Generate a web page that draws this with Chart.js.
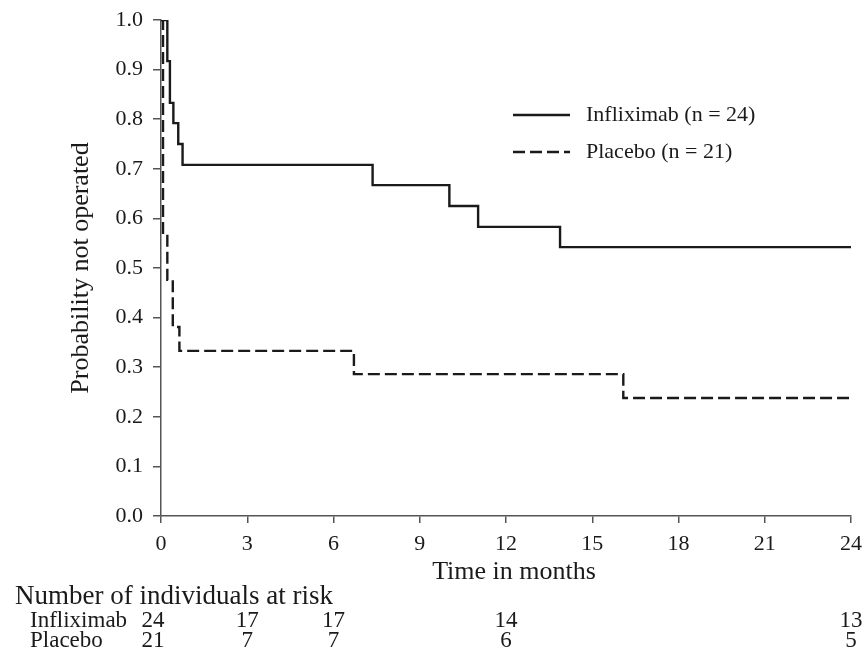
<!DOCTYPE html>
<html>
<head>
<meta charset="utf-8">
<script src="https://cdn.jsdelivr.net/npm/chart.js@4.4.0/dist/chart.umd.min.js"></script>
<style>
  html, body { margin: 0; padding: 0; background: #fff; }
  #wrap { width: 863px; height: 659px; }
</style>
</head>
<body>
<div id="wrap"><canvas id="km" width="863" height="659"></canvas></div>
<script>
// Kaplan-Meier data (months, probability not operated)
const inflixTimes = [0, 0.22, 0.31, 0.43, 0.60, 0.75, 7.36, 10.03, 11.03, 13.88, 24];
const inflixSurv  = [1.0, 0.917, 0.833, 0.792, 0.750, 0.708, 0.667, 0.625, 0.583, 0.542, 0.542];

const placeboTimes = [0, 0.07, 0.22, 0.41, 0.64, 6.71, 16.08, 24];
const placeboSurv  = [1.0, 0.571, 0.476, 0.381, 0.333, 0.286, 0.238, 0.238];

// Number at risk table
const riskTimes   = [0, 3, 6, 12, 24];
const riskInflix  = [24, 17, 17, 14, 13];
const riskPlacebo = [21, 7, 7, 6, 5];

const seriesLabels = ['Infliximab (n = 24)', 'Placebo (n = 21)'];
const riskLabels = ['Infliximab', 'Placebo'];

const FONT = "'Liberation Serif', 'Times New Roman', serif";
const INK = '#1a1a1a';

function toPoints(xs, ys) {
    return xs.map((x, i) => ({ x: x, y: ys[i] }));
}

// draws the legend, the x title and the number-at-risk table under the axis
const extrasPlugin = {
    id: 'extras',
    afterDraw(chart) {
        const ctx = chart.ctx;
        const xScale = chart.scales.x;
        ctx.save();
        ctx.fillStyle = INK;
        ctx.strokeStyle = INK;

        // legend
        const lx0 = 513, lx1 = 570, ly = [115, 152];
        ctx.font = '22px ' + FONT;
        ctx.textBaseline = 'middle';
        ctx.textAlign = 'left';
        chart.data.datasets.forEach((ds, i) => {
            ctx.lineWidth = 2.5;
            ctx.setLineDash(ds.borderDash || []);
            ctx.beginPath();
            ctx.moveTo(lx0, ly[i]);
            ctx.lineTo(lx1, ly[i]);
            ctx.stroke();
            ctx.setLineDash([]);
            ctx.fillText(seriesLabels[i], 586, ly[i]);
        });

        // x axis title
        ctx.font = '26px ' + FONT;
        ctx.textAlign = 'center';
        ctx.fillText('Time in months', (xScale.left + xScale.right) / 2 + 8, 572);

        // at-risk table
        ctx.textAlign = 'left';
        ctx.font = '27px ' + FONT;
        ctx.fillText('Number of individuals at risk', 15, 597);

        ctx.font = '23px ' + FONT;
        ctx.fillText(riskLabels[0], 30, 621);
        ctx.fillText(riskLabels[1], 30, 641);
        ctx.textAlign = 'center';
        riskTimes.forEach((t, i) => {
            let px = xScale.getPixelForValue(t);
            if (i === 0) px -= 8;
            if (i === riskTimes.length - 1) px = Math.min(px, 851);
            ctx.fillText(String(riskInflix[i]), px, 621);
            ctx.fillText(String(riskPlacebo[i]), px, 641);
        });
        ctx.restore();
    }
};

const ctx = document.getElementById('km').getContext('2d');
new Chart(ctx, {
    type: 'line',
    data: {
        datasets: [
            {
                label: seriesLabels[0],
                data: toPoints(inflixTimes, inflixSurv),
                borderColor: INK,
                borderWidth: 2.4,
                stepped: 'before',
                pointRadius: 0,
                fill: false
            },
            {
                label: seriesLabels[1],
                data: toPoints(placeboTimes, placeboSurv),
                borderColor: INK,
                borderWidth: 2.4,
                borderDash: [12, 5],
                stepped: 'before',
                pointRadius: 0,
                fill: false
            }
        ]
    },
    options: {
        responsive: false,
        animation: false,
        layout: { padding: { top: 20, right: 12, left: 0, bottom: 0 } },
        plugins: {
            legend: { display: false },
            tooltip: { enabled: false }
        },
        scales: {
            x: {
                type: 'linear',
                min: 0,
                max: 24,
                afterFit: (s) => { s.height = 143; s.paddingLeft = 0; s.paddingRight = 0; },
                border: { display: true, color: '#555', width: 1.5 },
                grid: { drawOnChartArea: false, drawTicks: true, tickLength: 7, color: '#555', lineWidth: 1.5 },
                ticks: { stepSize: 3, color: INK, font: { family: FONT, size: 22 }, padding: 8, maxRotation: 0 }
            },
            y: {
                min: 0,
                max: 1,
                afterFit: (s) => { s.width = 161; s.paddingTop = 0; s.paddingBottom = 0; },
                border: { display: true, color: '#555', width: 1.5 },
                grid: { drawOnChartArea: false, drawTicks: true, tickLength: 8, color: '#555', lineWidth: 1.5 },
                ticks: {
                    stepSize: 0.1,
                    color: INK,
                    font: { family: FONT, size: 22 },
                    padding: 10,
                    callback: (v) => v.toFixed(1)
                },
                title: {
                    display: true,
                    text: 'Probability not operated',
                    color: INK,
                    font: { family: FONT, size: 26 },
                    padding: { top: 66, bottom: 0 }
                }
            }
        }
    },
    plugins: [extrasPlugin]
});
</script>
</body>
</html>
